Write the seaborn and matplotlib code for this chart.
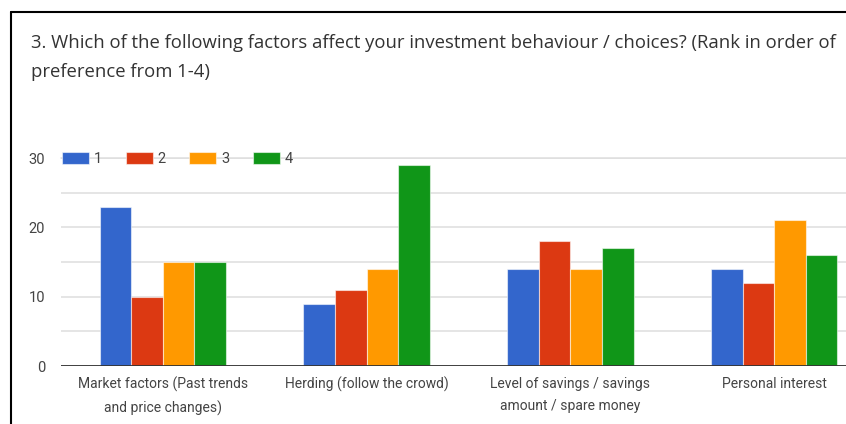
import matplotlib
matplotlib.use("Agg")
import matplotlib.pyplot as plt
import matplotlib.patches as mpatches
import matplotlib.lines as mlines
import matplotlib.ticker as mticker
import seaborn as sns
import pandas as pd

# Survey responses: number of respondents giving each rank to each factor
factors = [
    "Market factors (Past trends\nand price changes)",
    "Herding (follow the crowd)",
    "Level of savings / savings\namount / spare money",
    "Personal interest",
]
ranks = ["1", "2", "3", "4"]
rank1 = [23, 9, 14, 14]
rank2 = [10, 11, 18, 12]
rank3 = [15, 14, 14, 21]
rank4 = [15, 29, 17, 16]
y_ticks = [0, 10, 20, 30]

title_line1 = "3. Which of the following factors affect your investment behaviour / choices? (Rank in order of"
title_line2 = "preference from 1-4)"

colors = ["#3366CC", "#DC3912", "#FF9900", "#109618"]

rows = []
for rank, values in zip(ranks, [rank1, rank2, rank3, rank4]):
    for factor, v in zip(factors, values):
        rows.append({"factor": factor, "rank": rank, "count": v})
df = pd.DataFrame(rows)

sns.set_theme(style="white")
plt.rcParams["font.family"] = ["Roboto", "DejaVu Sans"]

W, H = 846, 424
fig = plt.figure(figsize=(W / 100, H / 100), dpi=100)
fig.patch.set_facecolor("white")

# plot area (extends past the right edge, as in the original export)
left, right, bottom, top = 61, 876, 366, 158
ax = fig.add_axes([left / W, (H - bottom) / H, (right - left) / W, (bottom - top) / H])

sns.barplot(
    data=df, x="factor", y="count", hue="rank", order=factors, hue_order=ranks,
    palette=colors, width=0.62, saturation=1, ax=ax, legend=False,
    edgecolor=(1, 1, 1, 0.55), linewidth=0.8, zorder=3,
)

ax.set_ylim(0, 30)
ax.set_xlim(-0.5, len(factors) - 0.5)
ax.set_yticks(y_ticks)
ax.set_axisbelow(True)
ax.yaxis.set_minor_locator(mticker.MultipleLocator(5))
ax.grid(True, axis="y", which="both", color="#dedede", lw=1.1)
# top gridline sits on the axes edge, so draw it unclipped
ax.axhline(30, color="#dedede", lw=1.1, zorder=1, clip_on=False)
ax.axhline(0, color="#333333", lw=1.3, zorder=4)

for s in ax.spines.values():
    s.set_visible(False)
ax.set_xlabel("")
ax.set_ylabel("")
ax.tick_params(axis="both", which="both", length=0, colors="#444444")
ax.tick_params(axis="y", labelsize=10.5, pad=11.5)
ax.tick_params(axis="x", labelsize=10, pad=8)
for lab in ax.get_xticklabels():
    lab.set_linespacing(1.7)

handles = [mpatches.Patch(facecolor=c, edgecolor=(1, 1, 1, 0.55), lw=0.8) for c in colors]
leg = ax.legend(
    handles, ranks, loc="center left", bbox_to_anchor=(62 / W, (H - 159) / H),
    bbox_transform=fig.transFigure,
    ncol=4, frameon=False, borderpad=0, borderaxespad=0,
    handlelength=1.85, handleheight=0.9, handletextpad=0.35, columnspacing=1.6,
    fontsize=10.5, labelcolor="#444444",
)
leg.set_zorder(2)

fig.text(31 / W, (H - 48) / H, title_line1, fontsize=13.3, color="#333333", va="baseline", ha="left",
         family=["Open Sans", "DejaVu Sans"])
fig.text(31 / W, (H - 77) / H, title_line2, fontsize=13.3, color="#333333", va="baseline", ha="left",
         family=["Open Sans", "DejaVu Sans"])

# card border along the top and left edges
fig.add_artist(mlines.Line2D([11 / W, 1.0], [(H - 12) / H, (H - 12) / H], color="black", lw=1.5, transform=fig.transFigure))
fig.add_artist(mlines.Line2D([11 / W, 11 / W], [0, (H - 12) / H], color="black", lw=1.5, transform=fig.transFigure))

fig.savefig("out.png", dpi=100, facecolor="white")
